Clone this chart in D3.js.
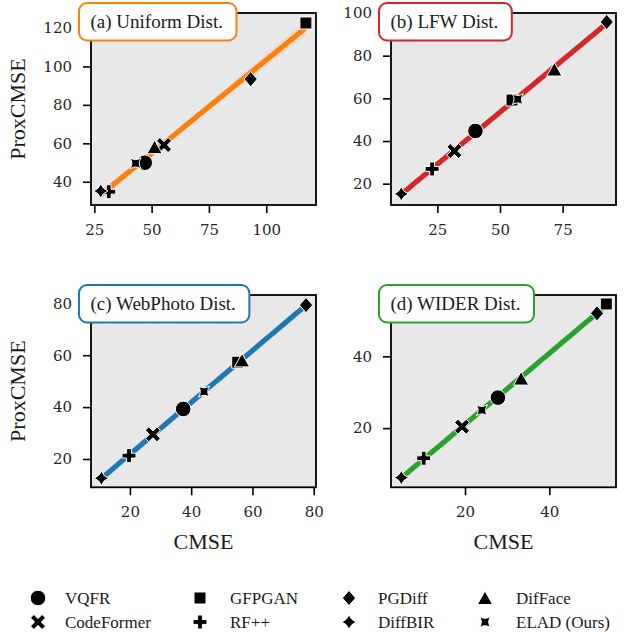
<!DOCTYPE html>
<html><head><meta charset="utf-8">
<script src="https://cdn.jsdelivr.net/npm/d3@7"></script>
<style>body{margin:0;background:#fff}</style>
</head><body>
<svg id="chart" width="624" height="632" xmlns="http://www.w3.org/2000/svg"></svg>
<script>
// ---------- data ----------
const methods = ["VQFR", "CodeFormer", "GFPGAN", "RF++", "PGDiff", "DiffBIR", "DifFace", "ELAD (Ours)"];
const legendOrder = ["VQFR", "GFPGAN", "PGDiff", "DifFace", "CodeFormer", "RF++", "DiffBIR", "ELAD (Ours)"];

const panelTitles = ["(a) Uniform Dist.", "(b) LFW Dist.", "(c) WebPhoto Dist.", "(d) WIDER Dist."];
const panelColors = ["#ff7f0e", "#d62728", "#1f77b4", "#2ca02c"];

// values per method (same order as `methods`)
const uniformCMSE  = [47.0, 55.4, 117.3, 31.3, 93.2, 27.8, 51.3, 43.0];
const uniformProx  = [49.9, 59.1, 122.6, 34.8, 93.4, 35.2, 58.0, 49.6];
const lfwCMSE      = [40.2, 31.8, 54.8, 22.9, 92.6, 10.6, 71.7, 57.1];
const lfwProx      = [44.7, 35.3, 59.2, 26.9, 95.8, 15.2, 73.5, 59.6];
const webphotoCMSE = [37.4, 27.5, 55.2, 19.7, 77.5, 10.7, 56.6, 44.2];
const webphotoProx = [39.3, 29.5, 57.3, 21.3, 79.3, 12.6, 58.0, 46.0];
const widerCMSE    = [27.8, 19.3, 53.5, 10.2, 51.3, 4.9, 33.3, 24.0];
const widerProx    = [28.5, 20.4, 54.6, 11.6, 52.0, 6.2, 33.8, 25.0];

const xTickValues = [[25, 50, 75, 100], [25, 50, 75], [20, 40, 60, 80], [20, 40]];
const yTickValues = [[40, 60, 80, 100, 120], [20, 40, 60, 80, 100], [20, 40, 60, 80], [20, 40]];
const xDomains = [[23.56, 121.7], [6.5, 96.3], [7.3, 80.75], [2.45, 55.8]];
const yDomains = [[27.9, 127.8], [10.0, 100.0], [9.1, 83.2], [3.5, 57.1]];

const xLabel = "CMSE";
const yLabel = "ProxCMSE";

// ---------- layout ----------
const svg = d3.select("#chart");
svg.append("rect").attr("width", 624).attr("height", 632).attr("fill", "#fff");

const cols = [[91, 316], [391, 616]];
const rows = [[13, 205], [295, 487.3]];
const serif = "'Liberation Serif', 'Times New Roman', serif";
const tickFont = "'DejaVu Serif', serif";

const panelData = [
  [uniformCMSE, uniformProx],
  [lfwCMSE, lfwProx],
  [webphotoCMSE, webphotoProx],
  [widerCMSE, widerProx]
];

// ---------- marker shapes ----------
function plusPts(L, t) {
  return [[-t,-L],[t,-L],[t,-t],[L,-t],[L,t],[t,t],[t,L],[-t,L],[-t,t],[-L,t],[-L,-t],[-t,-t]];
}
function polyPath(pts) { return "M" + pts.map(p => p[0].toFixed(2) + "," + p[1].toFixed(2)).join("L") + "Z"; }
function rot45(pts) { const c = Math.SQRT1_2; return pts.map(([x,y]) => [c*(x - y), c*(x + y)]); }

const shapes = {
  "VQFR": (() => { const r = 7.8; return `M${r},0A${r},${r} 0 1,1 ${-r},0A${r},${r} 0 1,1 ${r},0Z`; })(),
  "GFPGAN": (() => { const h = 6; return `M${-h},${-h}H${h}V${h}H${-h}Z`; })(),
  "PGDiff": "M0,-7.6L6.6,0L0,7.6L-6.6,0Z",
  "DifFace": "M0,-7L7.6,6.5L-7.6,6.5Z",
  "CodeFormer": polyPath(rot45(plusPts(8.2, 2.4))),
  "RF++": polyPath(plusPts(7, 2.4)),
  "DiffBIR": "M0,-7.2Q1.9,-1.9 7.2,0Q1.9,1.9 0,7.2Q-1.9,1.9 -7.2,0Q-1.9,-1.9 0,-7.2Z",
  "ELAD (Ours)": "M-5.6,-5.6Q0,-1.8 5.6,-5.6Q1.8,0 5.6,5.6Q0,1.8 -5.6,5.6Q-1.8,0 -5.6,-5.6Z"
};

// ---------- regression ----------
function regress(xs, ys) {
  const n = xs.length;
  const xb = d3.mean(xs), yb = d3.mean(ys);
  let sxx = 0, sxy = 0;
  for (let i = 0; i < n; i++) { sxx += (xs[i]-xb)**2; sxy += (xs[i]-xb)*(ys[i]-yb); }
  const b = sxy / sxx, a = yb - b * xb;
  let sse = 0;
  for (let i = 0; i < n; i++) sse += (ys[i] - (a + b*xs[i]))**2;
  const s = Math.sqrt(sse / (n - 2));
  const t = 2.0;
  const [x0, x1] = d3.extent(xs);
  const pts = d3.range(0, 101).map(k => {
    const x = x0 + (x1 - x0) * k / 100;
    const yh = a + b * x;
    const se = s * Math.sqrt(1/n + (x - xb)**2 / sxx);
    return {x, y: yh, lo: yh - t*se, hi: yh + t*se};
  });
  return pts;
}

// ---------- panels ----------
panelData.forEach(([xs, ys], pi) => {
  const c = pi % 2, r = Math.floor(pi / 2);
  const [L, R] = cols[c], [T, B] = rows[r];
  const x = d3.scaleLinear().domain(xDomains[pi]).range([L, R]);
  const y = d3.scaleLinear().domain(yDomains[pi]).range([B, T]);
  const color = panelColors[pi];
  const g = svg.append("g");

  g.append("rect").attr("x", L).attr("y", T).attr("width", R - L).attr("height", B - T).attr("fill", "#e8e8e8");

  const clipId = "clip" + pi;
  svg.append("clipPath").attr("id", clipId).append("rect").attr("x", L).attr("y", T).attr("width", R - L).attr("height", B - T);
  const plot = g.append("g").attr("clip-path", `url(#${clipId})`);

  const reg = regress(xs, ys);
  plot.append("path").datum(reg)
    .attr("d", d3.area().x(d => x(d.x)).y0(d => y(d.lo)).y1(d => y(d.hi)))
    .attr("fill", color).attr("fill-opacity", 0.13);
  plot.append("path").datum(reg)
    .attr("d", d3.line().x(d => x(d.x)).y(d => y(d.y)))
    .attr("fill", "none").attr("stroke", color).attr("stroke-width", 5.2);

  methods.forEach((m, i) => {
    g.append("path").attr("d", shapes[m])
      .attr("transform", `translate(${x(xs[i])},${y(ys[i])})`)
      .attr("fill", "#000").attr("stroke", "#fff").attr("stroke-width", 1).attr("stroke-linejoin", "miter");
  });

  // axes
  const xa = g.append("g").attr("transform", `translate(0,${B})`)
    .call(d3.axisBottom(x).tickValues(xTickValues[pi]).tickSize(8).tickPadding(11).tickFormat(d3.format("d")));
  const ya = g.append("g").attr("transform", `translate(${L},0)`)
    .call(d3.axisLeft(y).tickValues(yTickValues[pi]).tickSize(8).tickPadding(11).tickFormat(d3.format("d")));
  [xa, ya].forEach(a => {
    a.select(".domain").remove();
    a.selectAll(".tick line").attr("stroke", "#000").attr("stroke-width", 1.6);
    a.selectAll(".tick text").attr("fill", "#262626").style("font-family", tickFont).style("font-size", "15px");
  });

  g.append("rect").attr("x", L).attr("y", T).attr("width", R - L).attr("height", B - T)
    .attr("fill", "none").attr("stroke", "#000").attr("stroke-width", 1.8);

  // title box
  const tb = g.append("g");
  const txt = tb.append("text").text(panelTitles[pi])
    .attr("x", L - 0.5).attr("y", T + 15.2)
    .style("font-family", serif).style("font-size", "19px").attr("fill", "#1a1a1a");
  const w = txt.node().getComputedTextLength();
  tb.insert("rect", "text").attr("x", L - 12).attr("y", T - 10).attr("width", w + 25).attr("height", 37.5)
    .attr("rx", 8).attr("ry", 8).attr("fill", "#fff").attr("stroke", color).attr("stroke-width", 2);

  if (c === 0) {
    g.append("text").text(yLabel)
      .attr("transform", `translate(25,${(T + B) / 2}) rotate(-90)`)
      .attr("text-anchor", "middle")
      .style("font-family", serif).style("font-size", "22px").attr("fill", "#1a1a1a");
  }
  if (r === 1) {
    g.append("text").text(xLabel)
      .attr("x", (L + R) / 2).attr("y", B + 61.5)
      .attr("text-anchor", "middle")
      .style("font-family", serif).style("font-size", "22px").attr("fill", "#1a1a1a");
  }
});

// ---------- legend ----------
const legMarkerX = [38, 200, 349, 485];
const legTextX = [65, 230, 378, 516];
const legRowY = [598, 622];
legendOrder.forEach((m, k) => {
  const col = k % 4, row = Math.floor(k / 4);
  svg.append("path").attr("d", shapes[m])
    .attr("transform", `translate(${legMarkerX[col]},${legRowY[row]})`)
    .attr("fill", "#000").attr("stroke", "#fff").attr("stroke-width", 1);
  svg.append("text").text(m)
    .attr("x", legTextX[col]).attr("y", legRowY[row] + 5.8)
    .style("font-family", serif).style("font-size", "17px").attr("fill", "#1a1a1a");
});
</script>
</body></html>
